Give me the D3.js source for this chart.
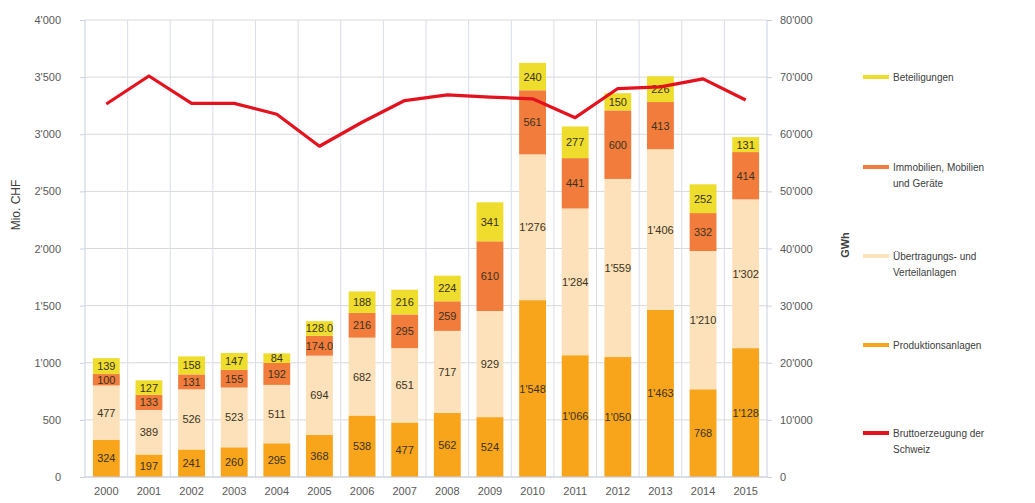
<!DOCTYPE html>
<html>
<head>
<meta charset="utf-8">
<script src="https://cdn.jsdelivr.net/npm/d3@7"></script>
<style>
  html, body { margin: 0; padding: 0; background: #fff; }
  svg { display: block; font-family: "Liberation Sans", Arial, sans-serif; }
</style>
</head>
<body>
<svg id="chart" width="1035" height="503"></svg>
<script>
// Investitionen der Elektrizitätswirtschaft (Mio. CHF) und Bruttoerzeugung (GWh)
const years = ["2000","2001","2002","2003","2004","2005","2006","2007","2008","2009","2010","2011","2012","2013","2014","2015"];
const produktion   = [324, 197, 241, 260, 295, 368, 538, 477, 562, 524, 1548, 1066, 1050, 1463, 768, 1128];
const uebertragung = [477, 389, 526, 523, 511, 694, 682, 651, 717, 929, 1276, 1284, 1559, 1406, 1210, 1302];
const immobilien   = [100, 133, 131, 155, 192, 174, 216, 295, 259, 610, 561, 441, 600, 413, 332, 414];
const beteiligung  = [139, 127, 158, 147, 84, 128, 188, 216, 224, 341, 240, 277, 150, 226, 252, 131];
const brutto       = [65300, 70200, 65400, 65400, 63500, 57900, 62100, 65900, 66900, 66500, 66200, 62900, 68000, 68300, 69700, 66000];
const leftTicks  = [0, 500, 1000, 1500, 2000, 2500, 3000, 3500, 4000];
const rightTicks = [0, 10000, 20000, 30000, 40000, 50000, 60000, 70000, 80000];
// 2005 values are shown with one decimal place
const decimalYears = ["2005"];

const seriesNames = ["Produktionsanlagen", "Übertragungs- und Verteilanlagen", "Immobilien, Mobilien und Geräte", "Beteiligungen"];
const seriesValues = [produktion, uebertragung, immobilien, beteiligung];
const colors = ["#f8a51b", "#fde1bb", "#f27c3b", "#eedd2c"];
const lineColor = "#e4121f";

const svg = d3.select("#chart");
const plotL = 85, plotR = 767, plotT = 20, plotB = 477;

const x = d3.scaleBand().domain(years).range([plotL, plotR]).paddingInner(0.37).paddingOuter(0.185);
const xb = d3.scaleBand().domain(years).range([plotL, plotR]);
const y = d3.scaleLinear().domain([0, 4000]).range([plotB, plotT]);
const y2 = d3.scaleLinear().domain([0, 80000]).range([plotB, plotT]);

const fmt = v => d3.format(",")(v).replace(/,/g, "'");

// grid
const grid = svg.append("g");
grid.selectAll("line.h").data(leftTicks).join("line")
  .attr("x1", plotL).attr("x2", plotR)
  .attr("y1", d => y(d)).attr("y2", d => y(d))
  .attr("stroke", "#d9d9d9").attr("stroke-width", 1);
grid.selectAll("line.v").data(years.slice(1)).join("line")
  .attr("x1", d => xb(d)).attr("x2", d => xb(d))
  .attr("y1", plotT).attr("y2", plotB)
  .attr("stroke", "#d8dde8").attr("stroke-width", 1);

// stacked bars
const rows = years.map((yr, i) => {
  const r = { year: yr };
  seriesNames.forEach((n, k) => r[n] = seriesValues[k][i]);
  return r;
});
const stack = d3.stack().keys(seriesNames)(rows);

const layers = svg.append("g").selectAll("g").data(stack).join("g")
  .attr("fill", (d, k) => colors[k]);
layers.selectAll("rect").data(d => d).join("rect")
  .attr("x", d => x(d.data.year))
  .attr("width", x.bandwidth())
  .attr("y", d => y(d[1]))
  .attr("height", d => y(d[0]) - y(d[1]));

// value labels
const lbl = svg.append("g").attr("font-size", 11).attr("fill", "#3b3320").attr("text-anchor", "middle");
stack.forEach((layer, k) => {
  lbl.selectAll(null).data(layer).join("text")
    .attr("x", d => x(d.data.year) + x.bandwidth() / 2)
    .attr("y", d => (y(d[0]) + y(d[1])) / 2 + 4)
    .text(d => {
      const v = d[1] - d[0];
      return decimalYears.includes(d.data.year) && k >= 2 ? v.toFixed(1) : fmt(v);
    });
});

// axis lines
svg.append("line").attr("x1", plotL).attr("x2", plotL).attr("y1", plotT).attr("y2", plotB).attr("stroke", "#c8d0e0");
svg.append("line").attr("x1", plotR).attr("x2", plotR).attr("y1", plotT).attr("y2", plotB).attr("stroke", "#c8d0e0");
svg.append("line").attr("x1", plotL).attr("x2", plotR).attr("y1", plotB).attr("y2", plotB).attr("stroke", "#c8d0e0");

// left axis
const ya = svg.append("g").attr("transform", `translate(${plotL},0)`)
  .call(d3.axisLeft(y).tickValues(leftTicks).tickFormat(fmt).tickSize(5).tickPadding(19));
ya.select(".domain").remove();
ya.selectAll("line").attr("stroke", "#c8d0e0");
ya.selectAll("text").attr("font-size", 11).attr("fill", "#595959").attr("font-family", "Liberation Sans, Arial, sans-serif");

// right axis
const ya2 = svg.append("g").attr("transform", `translate(${plotR},0)`)
  .call(d3.axisRight(y2).tickValues(rightTicks).tickFormat(fmt).tickSize(5).tickPadding(8));
ya2.select(".domain").remove();
ya2.selectAll("line").attr("stroke", "#c8d0e0");
ya2.selectAll("text").attr("font-size", 11).attr("fill", "#595959").attr("font-family", "Liberation Sans, Arial, sans-serif");

// x axis
const xa = svg.append("g").attr("transform", `translate(0,${plotB})`)
  .call(d3.axisBottom(xb).tickSize(0).tickPadding(10));
xa.select(".domain").remove();
xa.selectAll("text").attr("font-size", 11).attr("fill", "#595959").attr("font-family", "Liberation Sans, Arial, sans-serif");

// axis titles
svg.append("text").attr("transform", "translate(20,205) rotate(-90)")
  .attr("text-anchor", "middle").attr("font-size", 12).attr("fill", "#404040").text("Mio. CHF");
svg.append("text").attr("transform", "translate(849,245) rotate(-90)")
  .attr("text-anchor", "middle").attr("font-size", 11).attr("font-weight", "bold").attr("fill", "#404040").text("GWh");

// production line
svg.append("path").datum(brutto)
  .attr("fill", "none").attr("stroke", lineColor).attr("stroke-width", 3.2).attr("stroke-linejoin", "round")
  .attr("d", d3.line().x((d, i) => xb(years[i]) + xb.bandwidth() / 2).y(d => y2(d)));

// legend
const legend = [
  { lines: ["Beteiligungen"], color: colors[3], y: 77 },
  { lines: ["Immobilien, Mobilien", "und Geräte"], color: colors[2], y: 167 },
  { lines: ["Übertragungs- und", "Verteilanlagen"], color: colors[1], y: 256 },
  { lines: ["Produktionsanlagen"], color: colors[0], y: 345 },
  { lines: ["Bruttoerzeugung der", "Schweiz"], color: lineColor, y: 433 }
];
const lg = svg.append("g");
legend.forEach(e => {
  lg.append("line").attr("x1", 863).attr("x2", 889).attr("y1", e.y).attr("y2", e.y)
    .attr("stroke", e.color).attr("stroke-width", 4);
  const t = lg.append("text").attr("x", 893).attr("y", e.y + 4).attr("font-size", 10).attr("fill", "#404040");
  e.lines.forEach((s, j) => t.append("tspan").attr("x", 893).attr("dy", j ? 16 : 0).text(s));
});
</script>
</body>
</html>
